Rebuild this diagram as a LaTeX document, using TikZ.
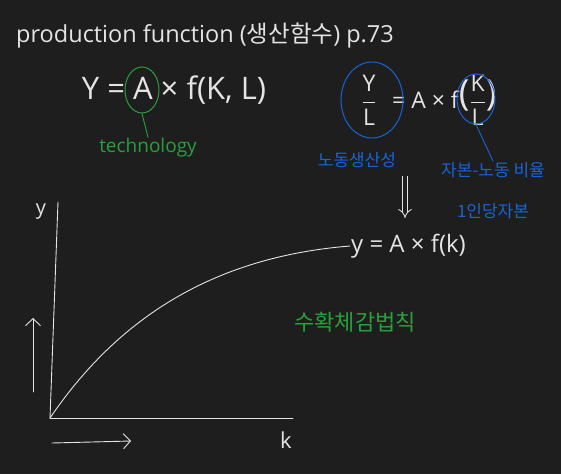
\documentclass[tikz,border=0pt]{standalone}
\usepackage{fontspec}
\setmainfont{Open Sans}
\newfontfamily\kr{Noto Sans CJK KR}
\usetikzlibrary{shapes,arrows,arrows.meta,positioning,calc}
\definecolor{boardbg}{RGB}{30,30,30}
\definecolor{chalk}{RGB}{228,228,228}
\definecolor{pengreen}{RGB}{40,160,60}
\definecolor{penblue}{RGB}{25,100,215}

\begin{document}
\begin{tikzpicture}[x=1pt, y=-1pt]
\tikzstyle{w} = [text=chalk, inner sep=1pt]
\tikzstyle{g} = [text=pengreen, inner sep=1pt]
\tikzstyle{bl} = [text=penblue, inner sep=1pt]
\tikzstyle{ring} = [ellipse, draw, line width=1pt, inner sep=0pt]
\tikzstyle{l} = [line width=0.9pt, line cap=round]
\tikzstyle{a} = [l, chalk, -{Straight Barb[length=7pt, width=15pt]}]
\fill [boardbg] (0,0) rectangle (561,474);
% title
\node [w, anchor=west, font=\fontsize{23.5}{27}\selectfont] (title) at (15,36) {production function ({\kr 생산함수}) p.73};
% Y = A x f(K,L)
\node [w, font=\fontsize{31}{35}\selectfont] (eq1) at (174,90) {Y = A × f(K, L)};
\node [ring, draw=pengreen, minimum width=34, minimum height=46] (ringA) at (142,90) {};
\node [g, font=\fontsize{19}{22}\selectfont] (tech) at (148,148) {technology};
\draw [l, pengreen] (ringA.south) -- (tech.north);
% Y/L = A x f(K/L)
\node [w, font=\fontsize{23}{28}\selectfont] (yl) at (369,100) {$\displaystyle\frac{\mbox{Y}}{\mbox{L}}$};
\node [w, anchor=west, font=\fontsize{23}{28}\selectfont] (eq2) at (391,100) {= A × f\raisebox{3pt}{\fontsize{36}{36}\selectfont(}$\displaystyle\frac{\mbox{K}}{\mbox{L}}$\raisebox{3pt}{\fontsize{36}{36}\selectfont)}};
\node [ring, draw=penblue, minimum width=62, minimum height=76] (ringYL) at (372,100) {};
\node [ring, draw=penblue, minimum width=38, minimum height=50] (ringKL) at (476,99) {};
\node [bl, font=\kr\fontsize{17}{20}\selectfont] (labprod) at (357,160) {노동생산성};
\node [bl, font=\kr\fontsize{17}{20}\selectfont] (kratio) at (493,170) {자본-노동 비율};
\node [bl, font=\kr\fontsize{17}{20}\selectfont] (percap) at (493,211) {1인당자본};
\draw [l, penblue] (ringKL.south) -- (kratio.north);
% implies
\coordinate (dtop) at (405,176);
\coordinate (dbot) at (405,218);
\draw [chalk, line width=0.8pt, double=boardbg, double distance=4pt, -implies] (dtop) -- (dbot);
% y = A x f(k)
\node [w, anchor=west, font=\fontsize{24}{28}\selectfont] (eq3) at (350,246) {y = A × f(k)};
% graph
\coordinate (O) at (50,418);
\coordinate (ytop) at (58,202);
\coordinate (xend) at (293,418);
\node [w, font=\fontsize{20}{24}\selectfont] (ylab) at (41,212) {y};
\node [w, font=\fontsize{22}{26}\selectfont] (klab) at (286,440) {k};
\draw [l, chalk] (O) -- (ytop);
\draw [l, chalk] (O) -- (xend);
\draw [l, chalk] (O) .. controls (110,330) and (200,258) .. (eq3.west);
\coordinate (upA) at (33,392);
\coordinate (upB) at (33,318);
\coordinate (rtA) at (52,443);
\coordinate (rtB) at (131,441);
\draw [a] (upA) -- (upB);
\draw [a] (rtA) -- (rtB);
\node [g, font=\kr\fontsize{22}{26}\selectfont] (dimret) at (355,322) {수확체감법칙};
\end{tikzpicture}
\end{document}
